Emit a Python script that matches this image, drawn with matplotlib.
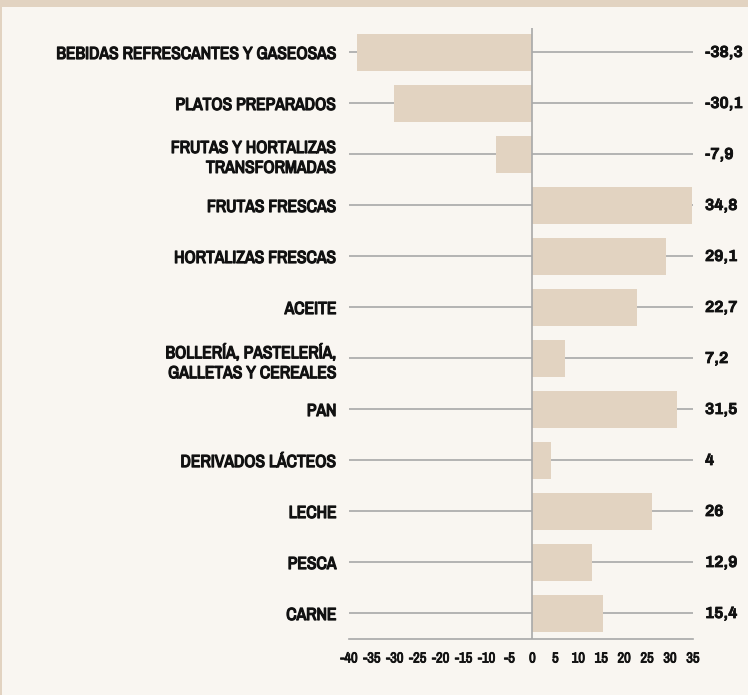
import matplotlib
matplotlib.use("Agg")
import matplotlib.pyplot as plt
import matplotlib.patheffects as pe
import numpy as np

categories = [
    "BEBIDAS REFRESCANTES Y GASEOSAS",
    "PLATOS PREPARADOS",
    "FRUTAS Y HORTALIZAS\nTRANSFORMADAS",
    "FRUTAS FRESCAS",
    "HORTALIZAS FRESCAS",
    "ACEITE",
    "BOLLERÍA, PASTELERÍA,\nGALLETAS Y CEREALES",
    "PAN",
    "DERIVADOS LÁCTEOS",
    "LECHE",
    "PESCA",
    "CARNE",
]
values = [-38.3, -30.1, -7.9, 34.8, 29.1, 22.7, 7.2, 31.5, 4, 26, 12.9, 15.4]
value_labels = ["-38,3", "-30,1", "-7,9", "34,8", "29,1", "22,7", "7,2", "31,5", "4", "26", "12,9", "15,4"]
xticks = list(range(-40, 40, 5))

BG = "#f9f6f1"
BAR = "#e2d3c1"
GRID = "#a8a8a8"
INK = "#111111"
NARROW = ["Archivo Narrow", "DejaVu Sans"]
WIDE = ["Archivo", "DejaVu Sans"]

plt.rcParams["font.family"] = NARROW
plt.rcParams["font.weight"] = "bold"
plt.rcParams["text.color"] = INK

fig = plt.figure(figsize=(7.48, 6.95), dpi=100, facecolor=BG)
fig.patches.append(plt.Rectangle((0, 1 - 7 / 695), 1, 7 / 695, transform=fig.transFigure,
                                 facecolor=BAR, edgecolor="none", zorder=0))
fig.patches.append(plt.Rectangle((0, 0), 2 / 748, 1, transform=fig.transFigure,
                                 facecolor=BAR, edgecolor="none", zorder=0))

ax = fig.add_axes([349 / 748, 1 - 639 / 695, (693 - 349) / 748, (639 - 28) / 695])
ax.set_facecolor("none")

y = np.arange(len(categories))
for yi in y:
    ax.plot([-40, 35], [yi, yi], color=GRID, lw=1.2, zorder=1, solid_capstyle="butt")
ax.barh(y, values, height=0.74, color=BAR, zorder=2)
ax.axvline(0, color=GRID, lw=1.2, zorder=3)

ax.set_xlim(-40, 35)
ax.set_ylim(len(categories) - 0.5, -0.48)
ax.set_xticks(xticks)
ax.set_xticklabels([str(t) for t in xticks], fontsize=10.5, fontweight="bold", color=INK)
ax.set_yticks(y)
ax.set_yticklabels(categories, fontsize=12.6, fontweight="bold", linespacing=1.3, color=INK)
ax.tick_params(axis="y", length=0, pad=9)
ax.tick_params(axis="x", length=0, pad=9)
for t in ax.get_yticklabels():
    t.set_path_effects([pe.Stroke(linewidth=0.9, foreground=INK), pe.Normal()])
for t in ax.get_xticklabels():
    t.set_path_effects([pe.Stroke(linewidth=0.6, foreground=INK), pe.Normal()])

for s in ["top", "right", "left"]:
    ax.spines[s].set_visible(False)
ax.spines["bottom"].set_color(GRID)
ax.spines["bottom"].set_linewidth(1.2)

for yi, lab in zip(y, value_labels):
    ax.annotate(lab, xy=(1, yi), xycoords=("axes fraction", "data"),
                xytext=(12, 0), textcoords="offset pixels",
                ha="left", va="center", fontsize=11.5, fontweight="bold", family=WIDE,
                color=INK, path_effects=[pe.Stroke(linewidth=0.6, foreground=INK), pe.Normal()])

fig.savefig("out.png", dpi=100, facecolor=BG)
